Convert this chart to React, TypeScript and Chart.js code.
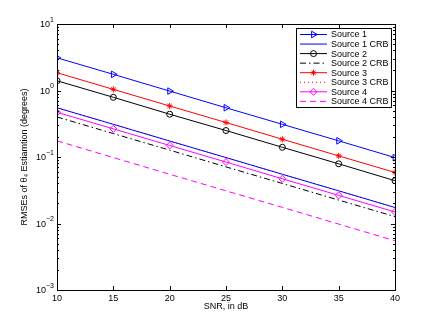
import React, { useEffect, useRef } from "react";
import { Chart, registerables } from "chart.js";
import { drawPoint } from "chart.js/helpers";

Chart.register(...registerables);

const snr = [10, 15, 20, 25, 30, 35, 40];
const source1 = [3.1, 1.75, 0.98, 0.55, 0.31, 0.175, 0.098];
const source1Crb = [0.55, 0.31, 0.174, 0.098, 0.055, 0.031, 0.0174];
const source2 = [1.4, 0.79, 0.44, 0.25, 0.14, 0.079, 0.044];
const source2Crb = [0.4, 0.225, 0.127, 0.071, 0.04, 0.0225, 0.0127];
const source3 = [1.85, 1.04, 0.585, 0.33, 0.185, 0.104, 0.0585];
const source3Crb = [0.55, 0.31, 0.174, 0.098, 0.055, 0.031, 0.0174];
const source4 = [0.47, 0.265, 0.149, 0.084, 0.047, 0.0265, 0.0149];
const source4Crb = [0.175, 0.098, 0.055, 0.031, 0.0175, 0.0098, 0.0055];

const xTicks = [10, 15, 20, 25, 30, 35, 40];
const yDecades = [-3, -2, -1, 0, 1];

const FONT = "'Liberation Sans', Arial, Helvetica, sans-serif";

type Series = {
  label: string;
  data: number[];
  color: string;
  dash: number[];
  pointStyle: string | false;
  rotation: number;
  radius: number;
};

const series: Series[] = [
  { label: "Source 1", data: source1, color: "#0000ff", dash: [], pointStyle: "triangle", rotation: 90, radius: 3.8 },
  { label: "Source 1 CRB", data: source1Crb, color: "#0000ff", dash: [], pointStyle: false, rotation: 0, radius: 0 },
  { label: "Source 2", data: source2, color: "#000000", dash: [], pointStyle: "circle", rotation: 0, radius: 3 },
  { label: "Source 2 CRB", data: source2Crb, color: "#000000", dash: [6, 3, 1.5, 3], pointStyle: false, rotation: 0, radius: 0 },
  { label: "Source 3", data: source3, color: "#ff0000", dash: [], pointStyle: "star", rotation: 0, radius: 3 },
  { label: "Source 3 CRB", data: source3Crb, color: "#ff0000", dash: [1, 3], pointStyle: false, rotation: 0, radius: 0 },
  { label: "Source 4", data: source4, color: "#ff00ff", dash: [], pointStyle: "rectRot", rotation: 0, radius: 3.5 },
  { label: "Source 4 CRB", data: source4Crb, color: "#ff00ff", dash: [6, 4], pointStyle: false, rotation: 0, radius: 0 },
];

const framePlugin = {
  id: "matlabFrame",
  afterDraw(chart: any) {
    const ctx = chart.ctx as CanvasRenderingContext2D;
    const { left, right, top, bottom } = chart.chartArea;
    const xs = chart.scales.x;
    const ys = chart.scales.y;
    ctx.save();
    ctx.strokeStyle = "#000";
    ctx.lineWidth = 1;
    ctx.setLineDash([]);
    ctx.beginPath();
    for (const v of xTicks) {
      const x = Math.round(xs.getPixelForValue(v)) + 0.5;
      ctx.moveTo(x, bottom);
      ctx.lineTo(x, bottom - 4);
      ctx.moveTo(x, top);
      ctx.lineTo(x, top + 4);
    }
    for (const d of yDecades) {
      const y = Math.round(ys.getPixelForValue(Math.pow(10, d))) + 0.5;
      ctx.moveTo(left, y);
      ctx.lineTo(left + 4, y);
      ctx.moveTo(right, y);
      ctx.lineTo(right - 4, y);
      if (d < 1) {
        for (let m = 2; m <= 9; m++) {
          const ym = Math.round(ys.getPixelForValue(m * Math.pow(10, d))) + 0.5;
          ctx.moveTo(left, ym);
          ctx.lineTo(left + 2, ym);
          ctx.moveTo(right, ym);
          ctx.lineTo(right - 2, ym);
        }
      }
    }
    ctx.stroke();
    ctx.strokeRect(Math.round(left) + 0.5, Math.round(top) + 0.5, Math.round(right - left), Math.round(bottom - top));
    ctx.fillStyle = "#000";
    for (const d of yDecades) {
      const y = ys.getPixelForValue(Math.pow(10, d));
      const exp = d < 0 ? "\u2212" + String(-d) : String(d);
      ctx.font = `7px ${FONT}`;
      const ew = ctx.measureText(exp).width;
      ctx.font = `9px ${FONT}`;
      const bw = ctx.measureText("10").width;
      const xEnd = left - 3;
      ctx.textBaseline = "middle";
      ctx.textAlign = "left";
      ctx.fillText("10", xEnd - ew - bw, y + 1);
      ctx.font = `7px ${FONT}`;
      ctx.fillText(exp, xEnd - ew, y - 4);
    }
    const lx = 296.5, ly = 28.5, lw = 95, lh = 79;
    ctx.fillStyle = "#fff";
    ctx.fillRect(lx, ly, lw, lh);
    ctx.strokeStyle = "#000";
    ctx.lineWidth = 1;
    ctx.strokeRect(lx, ly, lw, lh);
    series.forEach((s, i) => {
      const yy = 34.5 + i * 9.55;
      ctx.strokeStyle = s.color;
      ctx.lineWidth = 1;
      ctx.setLineDash(s.dash);
      ctx.beginPath();
      ctx.moveTo(300, yy);
      ctx.lineTo(327, yy);
      ctx.stroke();
      ctx.setLineDash([]);
      if (s.pointStyle) {
        ctx.strokeStyle = s.color;
        ctx.fillStyle = "rgba(0,0,0,0)";
        drawPoint(ctx, { pointStyle: s.pointStyle as any, rotation: s.rotation, radius: s.radius, borderWidth: 1 }, 313.5, yy);
      }
      ctx.fillStyle = "#000";
      ctx.font = `9px ${FONT}`;
      ctx.textAlign = "left";
      ctx.textBaseline = "middle";
      ctx.fillText(s.label, 331, yy + 0.5);
    });
    ctx.restore();
  },
};

export default function App() {
  const ref = useRef<HTMLCanvasElement | null>(null);
  useEffect(() => {
    if (!ref.current) return;
    const chart = new Chart(ref.current, {
      type: "line",
      data: {
        datasets: series.map((s) => ({
          label: s.label,
          data: snr.map((x, i) => ({ x, y: s.data[i] })),
          borderColor: s.color,
          backgroundColor: "rgba(0,0,0,0)",
          borderWidth: 1,
          borderDash: s.dash,
          pointStyle: s.pointStyle as any,
          pointRotation: s.rotation,
          pointRadius: s.radius,
          pointBorderWidth: 1,
          pointBorderColor: s.color,
          pointBackgroundColor: "rgba(0,0,0,0)",
          tension: 0,
          fill: false,
        })),
      },
      options: {
        animation: false,
        responsive: false,
        maintainAspectRatio: false,
        layout: { padding: { top: 24, right: 41, left: 0, bottom: 0 } },
        plugins: { legend: { display: false }, tooltip: { enabled: false } },
        scales: {
          x: {
            type: "linear",
            min: 10,
            max: 40,
            grid: { display: false, drawTicks: false },
            border: { display: false },
            ticks: {
              stepSize: 5,
              padding: 3,
              color: "#000",
              font: { family: FONT, size: 9 },
              maxRotation: 0,
            },
            title: {
              display: true,
              text: "SNR, in dB",
              color: "#000",
              font: { family: FONT, size: 9 },
              padding: { top: 0, bottom: 15.5 },
            },
            afterFit: (scale: any) => {
              scale.height = 37;
            },
          },
          y: {
            type: "logarithmic",
            min: 0.001,
            max: 10,
            grid: { display: false, drawTicks: false },
            border: { display: false },
            ticks: { display: false },
            title: {
              display: true,
              text: "RMSEs of θ\u2084 Estiamtion (degrees)",
              color: "#000",
              font: { family: FONT, size: 9 },
              padding: { top: 19.5, bottom: 0 },
            },
            afterFit: (scale: any) => {
              scale.width = 57;
            },
          },
        },
      },
      plugins: [framePlugin],
    });
    return () => chart.destroy();
  }, []);
  return (
    <div style={{ position: "absolute", left: 0, top: 0, width: 436, height: 327, background: "#fff" }}>
      <canvas ref={ref} width={436} height={327} style={{ width: 436, height: 327 }} />
    </div>
  );
}
